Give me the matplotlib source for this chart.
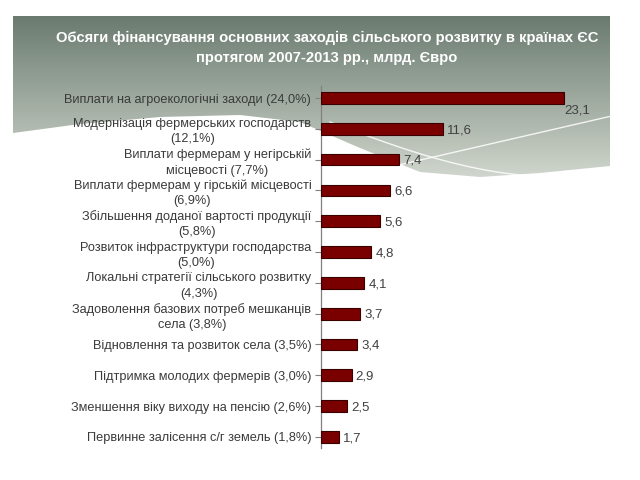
import matplotlib
matplotlib.use("Agg")
import matplotlib.pyplot as plt
import numpy as np
from matplotlib.patches import Polygon

# --- Data ---
categories = [
    "Виплати на агроекологічні заходи (24,0%)",
    "Модернізація фермерських господарств\n(12,1%)",
    "Виплати фермерам у негірській\nмісцевості (7,7%)",
    "Виплати фермерам у гірській місцевості\n(6,9%)",
    "Збільшення доданої вартості продукції\n(5,8%)",
    "Розвиток інфраструктури господарства\n(5,0%)",
    "Локальні стратегії сільського розвитку\n(4,3%)",
    "Задоволення базових потреб мешканців\nсела (3,8%)",
    "Відновлення та розвиток села (3,5%)",
    "Підтримка молодих фермерів (3,0%)",
    "Зменшення віку виходу на пенсію (2,6%)",
    "Первинне залісення с/г земель (1,8%)",
]
values = [23.1, 11.6, 7.4, 6.6, 5.6, 4.8, 4.1, 3.7, 3.4, 2.9, 2.5, 1.7]
value_labels = ["23,1", "11,6", "7,4", "6,6", "5,6", "4,8",
                "4,1", "3,7", "3,4", "2,9", "2,5", "1,7"]
title = ("Обсяги фінансування основних заходів сільського розвитку в країнах ЄС\n"
         "протягом 2007-2013 рр., млрд. Євро")

fig = plt.figure(figsize=(6.4, 4.8), dpi=100)

# --- Slide background: header band + grey wave (pixel coordinates) ---
bg = fig.add_axes([0, 0, 1, 1])
bg.set_xlim(0, 640)
bg.set_ylim(480, 0)
bg.axis("off")

grad = np.linspace(0, 1, 256).reshape(-1, 1)
cmap = matplotlib.colors.LinearSegmentedColormap.from_list(
    "slide", ["#6b7a6f", "#8d9b90", "#b0b9af", "#d3d9d0"])
img = bg.imshow(grad, extent=[13, 610, 182, 16], aspect="auto", cmap=cmap,
                vmin=0, vmax=1, zorder=0)
wx = np.array([13, 80, 160, 240, 300, 360, 420, 480, 540, 610])
wy = np.array([133, 124, 117, 115, 122, 148, 172, 177, 173, 166])
xs = np.linspace(13, 610, 200)
ys = np.interp(xs, wx, wy)
poly = np.vstack([[13, 16], [610, 16], np.column_stack([xs[::-1], ys[::-1]])])
clip = Polygon(poly, closed=True, transform=bg.transData, facecolor="none",
               edgecolor="none")
bg.add_patch(clip)
img.set_clip_path(clip)
# thin white sweeps
sx = np.linspace(330, 560, 100)
bg.plot(sx, 122 + 55 * np.sin((sx - 330) / 230 * np.pi / 2),
        color="white", lw=1.0, alpha=0.85, zorder=1)
sx2 = np.linspace(390, 610, 100)
bg.plot(sx2, 167 - (sx2 - 390) * 0.23, color="white", lw=1.0, alpha=0.85, zorder=1)

bg.text(327, 48, title, ha="center", va="center", color="white",
        fontsize=10.6, fontweight="bold", linespacing=1.62,
        family="Liberation Sans", zorder=3)

# --- Bar chart ---
ax = fig.add_axes([321 / 640, 1 - 448 / 480, 289 / 640, 362 / 480])
ax.patch.set_alpha(0)
y = np.arange(len(values))
ax.barh(y, values, height=0.38, color="#7a0000", edgecolor="#3a0000",
        linewidth=0.8, zorder=3)
ax.set_xlim(0, 27.47)
ax.set_ylim(11.36, -0.39)
ax.set_yticks(y)
ax.set_yticklabels(categories, fontsize=9.2, color="#3a3a3a",
                   family="Liberation Sans", linespacing=1.35,
                   multialignment="center")
ax.tick_params(axis="y", length=4, width=0.8, color="#808080", pad=3)
ax.set_xticks([])
for s in ["top", "right", "bottom"]:
    ax.spines[s].set_visible(False)
ax.spines["left"].set_color("#808080")
ax.spines["left"].set_linewidth(0.9)

for i, (v, lab) in enumerate(zip(values, value_labels)):
    if i == 0:
        ax.text(v + 0.05, i + 0.22, lab, ha="left", va="top", fontsize=9.5,
                color="#404040", family="Liberation Sans")
    else:
        ax.text(v + 0.4, i + 0.04, lab, ha="left", va="center", fontsize=9.5,
                color="#404040", family="Liberation Sans")

fig.savefig("out.png", dpi=100)
